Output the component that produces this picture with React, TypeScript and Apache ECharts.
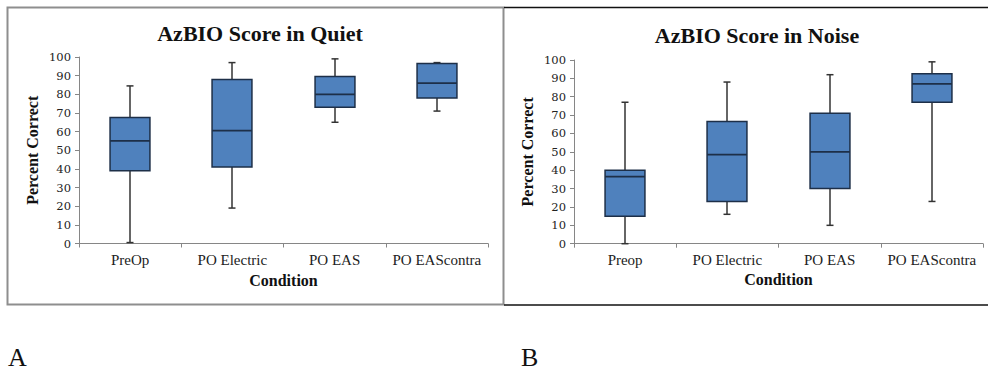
import { useEffect, useRef } from "react";
import * as echarts from "echarts";

// Categories of the two panels
const quietCategories = ["PreOp", "PO Electric", "PO EAS", "PO EAScontra"];
const noiseCategories = ["Preop", "PO Electric", "PO EAS", "PO EAScontra"];

// Five-number summaries: [min, Q1, median, Q3, max]
const quietStats = [
  [0.5, 39, 55, 67.5, 84.5],
  [19, 41, 60.5, 88, 97],
  [65, 73, 80, 89.5, 99],
  [71, 78, 86, 96.5, 97],
];
const noiseStats = [
  [0, 15, 36.5, 40, 77],
  [16, 23, 48.5, 66.5, 88],
  [10, 30, 50, 71, 92],
  [23, 77, 87, 92.5, 99],
];

const panelTitles = ["AzBIO Score in Quiet", "AzBIO Score in Noise"];
const panelLetters = ["A", "B"];
const yAxisTitle = "Percent Correct";
const xAxisTitle = "Condition";

const SERIF = "'Liberation Serif', 'DejaVu Serif', serif";
const BOX_FILL = "#4f81bd";
const BOX_EDGE = "#1d2f48";
const WHISKER = "#333333";
const AXIS_GRAY = "#868686";

function renderBox(_params: any, api: any) {
  const x = api.value(0);
  const lo = api.coord([x, api.value(1)]);
  const q1 = api.coord([x, api.value(2)]);
  const med = api.coord([x, api.value(3)]);
  const q3 = api.coord([x, api.value(4)]);
  const hi = api.coord([x, api.value(5)]);
  const bw = api.size([1, 0])[0] * 0.39;
  const cx = Math.round(lo[0]);
  const half = bw / 2;
  const cap = 3.5;
  const wStyle = { stroke: WHISKER, lineWidth: 1.5 };
  return {
    type: "group",
    children: [
      { type: "line", shape: { x1: cx, y1: hi[1], x2: cx, y2: q3[1] }, style: wStyle },
      { type: "line", shape: { x1: cx, y1: q1[1], x2: cx, y2: lo[1] }, style: wStyle },
      { type: "line", shape: { x1: cx - cap, y1: hi[1], x2: cx + cap, y2: hi[1] }, style: wStyle },
      { type: "line", shape: { x1: cx - cap, y1: lo[1], x2: cx + cap, y2: lo[1] }, style: wStyle },
      {
        type: "rect",
        shape: { x: cx - half, y: q3[1], width: bw, height: q1[1] - q3[1] },
        style: { fill: BOX_FILL, stroke: BOX_EDGE, lineWidth: 1.5 },
      },
      {
        type: "line",
        shape: { x1: cx - half, y1: med[1], x2: cx + half, y2: med[1] },
        style: { stroke: BOX_EDGE, lineWidth: 1.8 },
      },
    ],
  };
}

function xAxisFor(gridIndex: number, cats: string[]) {
  return {
    type: "category",
    gridIndex,
    data: cats,
    boundaryGap: true,
    axisLine: { show: true, lineStyle: { color: AXIS_GRAY, width: 1 } },
    axisTick: { show: true, length: 4, lineStyle: { color: AXIS_GRAY } },
    axisLabel: {
      color: "#222",
      fontFamily: SERIF,
      fontSize: 15,
      margin: 9,
      interval: 0,
      hideOverlap: false,
    },
    splitLine: { show: false },
    name: xAxisTitle,
    nameLocation: "middle",
    nameGap: 28,
    nameTextStyle: { color: "#111", fontFamily: SERIF, fontSize: 16, fontWeight: "bold" },
  };
}

function yAxisFor(gridIndex: number) {
  return {
    type: "value",
    gridIndex,
    min: 0,
    max: 100,
    interval: 10,
    axisLine: { show: true, lineStyle: { color: AXIS_GRAY, width: 1 } },
    axisTick: { show: true, length: 4, lineStyle: { color: AXIS_GRAY } },
    axisLabel: { color: "#222", fontFamily: "'DejaVu Serif', serif", fontSize: 11.5, margin: 8 },
    splitLine: { show: false },
    name: yAxisTitle,
    nameLocation: "middle",
    nameGap: 39,
    nameTextStyle: { color: "#111", fontFamily: SERIF, fontSize: 16, fontWeight: "bold" },
  };
}

export default function App() {
  const ref = useRef<HTMLDivElement>(null);

  useEffect(() => {
    if (!ref.current) return;
    const chart = echarts.init(ref.current, undefined, { renderer: "svg" });
    chart.setOption({
      animation: false,
      backgroundColor: "#ffffff",
      title: [
        {
          text: panelTitles[0],
          left: 255,
          top: 17,
          textAlign: "center",
          textStyle: { fontFamily: SERIF, fontSize: 22, fontWeight: "bold", color: "#111" },
        },
        {
          text: panelTitles[1],
          left: 752,
          top: 19,
          textAlign: "center",
          textStyle: { fontFamily: SERIF, fontSize: 22, fontWeight: "bold", color: "#111" },
        },
      ],
      grid: [
        { left: 79, top: 57, width: 409, height: 186.5, containLabel: false },
        { left: 574, top: 60, width: 409, height: 183.7, containLabel: false },
      ],
      xAxis: [xAxisFor(0, quietCategories), xAxisFor(1, noiseCategories)],
      yAxis: [yAxisFor(0), yAxisFor(1)],
      series: [
        {
          type: "custom",
          xAxisIndex: 0,
          yAxisIndex: 0,
          renderItem: renderBox,
          encode: { x: 0, y: [1, 2, 3, 4, 5] },
          data: quietStats.map((s, i) => [i, ...s]),
        },
        {
          type: "custom",
          xAxisIndex: 1,
          yAxisIndex: 1,
          renderItem: renderBox,
          encode: { x: 0, y: [1, 2, 3, 4, 5] },
          data: noiseStats.map((s, i) => [i, ...s]),
        },
      ],
      graphic: [
        {
          type: "rect",
          silent: true,
          shape: { x: 7.5, y: 7.5, width: 496, height: 297 },
          style: { fill: "none", stroke: "#8e8e8e", lineWidth: 2 },
        },
        {
          type: "line",
          silent: true,
          shape: { x1: 504, y1: 7.5, x2: 988, y2: 7.5 },
          style: { stroke: "#111", lineWidth: 1.5 },
        },
        {
          type: "line",
          silent: true,
          shape: { x1: 504, y1: 305, x2: 988, y2: 305 },
          style: { stroke: "#111", lineWidth: 1.5 },
        },
        {
          type: "text",
          left: 8,
          top: 344,
          style: { text: panelLetters[0], font: `26px ${SERIF}`, fill: "#111" },
        },
        {
          type: "text",
          left: 521,
          top: 344,
          style: { text: panelLetters[1], font: `26px ${SERIF}`, fill: "#111" },
        },
      ],
    });
    return () => chart.dispose();
  }, []);

  return (
    <div
      ref={ref}
      style={{ position: "fixed", left: 0, top: 0, width: 988, height: 370, background: "#fff" }}
    />
  );
}
